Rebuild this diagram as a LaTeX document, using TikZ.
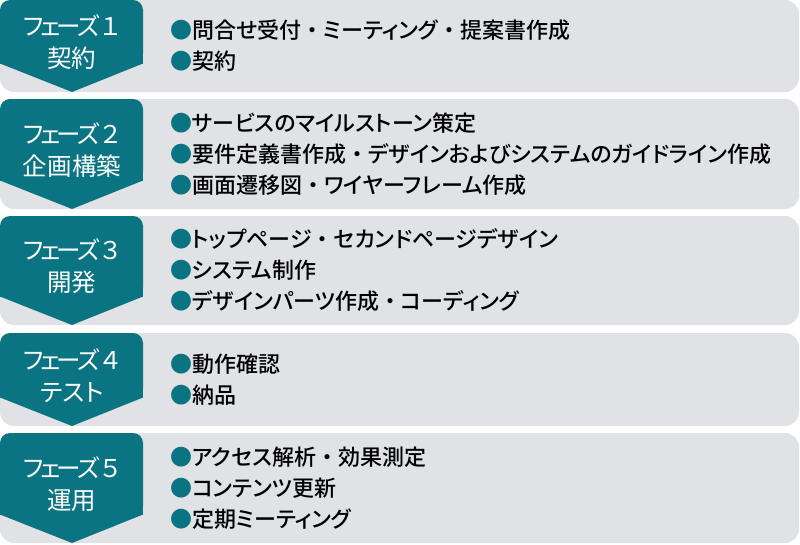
\documentclass[tikz,border=0pt]{standalone}
\usepackage{fontspec}
\setmainfont{Noto Sans CJK JP}[UprightFont=* Medium]
\newfontfamily\titlefont{Noto Sans CJK JP}[RawFeature=+palt]
\newfontfamily\itemfont{Noto Sans CJK JP}[UprightFont=* Medium, RawFeature=+palt]
\newfontfamily\fullfont{Noto Sans CJK JP}[UprightFont=* Medium]
\definecolor{tealc}{RGB}{11,116,130}
\definecolor{graybg}{RGB}{224,226,230}
\newcommand\bul{{\color{tealc}●}}
\newcommand\nakaguro{{\fullfont ・}}
\newcommand\fz[1]{フ\kern-3pt ェ\kern-4.5pt ー\kern-4pt ズ\kern2pt #1}
\newcommand\phaserow[6]{%
  \pgfmathsetmacro\rt{#2}\pgfmathsetmacro\rb{#3}%
  \pgfmathsetmacro\rk{#3-28}\pgfmathsetmacro\rc{(#2+#3)/2}%
  \fill[rowbox] (0,\rt) rectangle (799,\rb);
  \fill[tealc, rounded corners=10pt] (0,\rt) rectangle (143,\rk);
  \fill[tealc] (0,\rt+12) rectangle (143,\rk);
  \fill[tealc] (0,\rk-0.5) -- (143,\rk-0.5) -- (72,\rb) -- cycle;
  \node[phasetext] (#1t) at (72,\rc-#6) {#4};
  \node[items] (#1i) at (170,\rc) {#5};
}
\begin{document}
\begin{tikzpicture}[x=1pt,y=-1pt]
\tikzset{
  rowbox/.style={fill=graybg, rounded corners=14pt},
  phasetext/.style={text=white, font=\titlefont\fontsize{24.5}{32}\selectfont, align=center, inner sep=0pt},
  items/.style={font=\itemfont\fontsize{22}{31}\selectfont, align=left, anchor=west, inner sep=0pt}
}
\useasboundingbox (0,0) rectangle (800,544);
\phaserow{p1}{0}{92}{\fz{１}\\契約}{\bul 問合せ受付\nakaguro ミーティング\nakaguro 提案書作成\\\bul 契約}{4}
\phaserow{p2}{99}{209}{\fz{２}\\企画構築}{\bul サービスのマイルストーン策定\\\bul 要件定義書作成\nakaguro デザインおよびシステムのガイドライン作成\\\bul 画面遷移図\nakaguro ワイヤーフレーム作成}{4}
\phaserow{p3}{216}{325}{\fz{３}\\開発}{\bul トップページ\nakaguro セカンドページデザイン\\\bul システム制作\\\bul デザインパーツ作成\nakaguro コーディング}{4}
\phaserow{p4}{333}{426}{\fz{４}\\テスト}{\bul 動作確認\\\bul 納品}{4}
\phaserow{p5}{433}{543}{\fz{５}\\運用}{\bul アクセス解析\nakaguro 効果測定\\\bul コンテンツ更新\\\bul 定期ミーティング}{4}
\end{tikzpicture}
\end{document}
